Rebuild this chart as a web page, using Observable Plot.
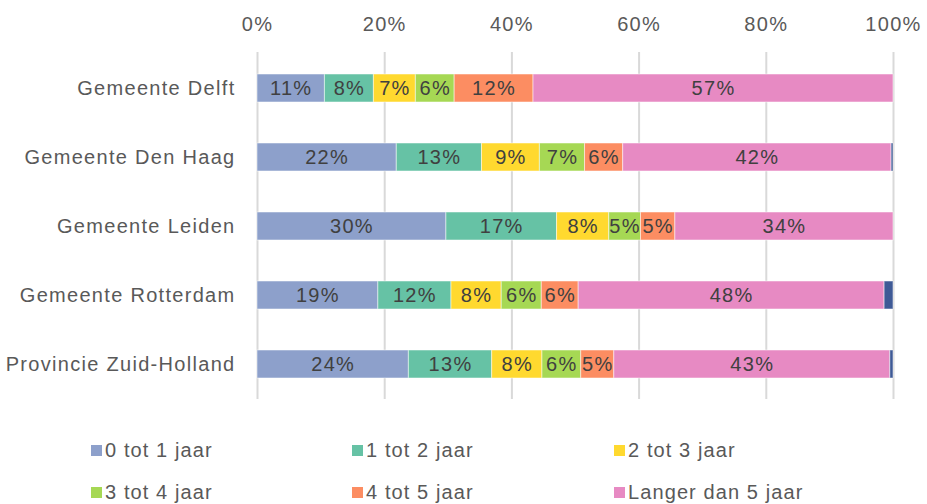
<!DOCTYPE html>
<html><head><meta charset="utf-8">
<script src="https://cdn.jsdelivr.net/npm/d3@7"></script>
<script src="https://cdn.jsdelivr.net/npm/@observablehq/plot@0.6"></script>
<style>
body{margin:0;background:#fff;font-family:"Liberation Sans",Arial,sans-serif;}
#chart svg text{letter-spacing:1.3px;}
#legend{display:grid;grid-template-columns:261px 262px 300px;padding-left:91px;padding-top:19px;row-gap:0;}
#legend div{height:42px;display:flex;align-items:center;font-size:20px;color:#595959;letter-spacing:1.1px;}
#legend span.sw{display:inline-block;width:11px;height:11px;margin-right:3px;}
</style></head>
<body><div id="chart"></div><div id="legend"></div>
<script>
const categories = ["Gemeente Delft","Gemeente Den Haag","Gemeente Leiden","Gemeente Rotterdam","Provincie Zuid-Holland"];
const series = ["0 tot 1 jaar","1 tot 2 jaar","2 tot 3 jaar","3 tot 4 jaar","4 tot 5 jaar","Langer dan 5 jaar","Onbekend"];
const colors = ["#8DA0CB","#66C2A5","#FFD92F","#A6D854","#FC8D62","#E78AC3","#3F5A96"];
const values = [
  [10.6, 7.7, 6.6, 6.1, 12.4, 56.6, 0],
  [21.9, 13.4, 9.1, 7.1, 6.0, 42.2, 0.3],
  [29.7, 17.4, 8.2, 5.0, 5.4, 34.3, 0],
  [19.0, 11.5, 7.9, 6.3, 5.8, 48.1, 1.4],
  [23.8, 13.1, 7.9, 6.1, 5.2, 43.4, 0.5]
];
const xTicks = [0,20,40,60,80,100];

const data = [];
categories.forEach((c,i)=>series.forEach((s,j)=>data.push({cat:c, ser:s, v:values[i][j]})));

const chart = Plot.plot({
  width: 927, height: 410,
  marginTop: 52, marginBottom: 11, marginLeft: 257, marginRight: 34,
  style:{fontFamily:"Liberation Sans, Arial, sans-serif", fontSize:"20px", color:"#595959"},
  x:{domain:[0,100], ticks:xTicks, tickFormat:d=>d+"%", axis:"top", tickSize:0, tickPadding:22, label:null, grid:false},
  y:{domain:categories, paddingInner:0.6, paddingOuter:0.3, tickSize:0, tickPadding:22, label:null},
  color:{domain:series, range:colors},
  marks:[
    Plot.ruleX(xTicks,{stroke:"#d9d9d9", strokeWidth:2}),
    Plot.barX(data, Plot.stackX({x:"v", y:"cat", fill:"ser", order:series, stroke:"white", strokeOpacity:0.5, strokeWidth:1})),
    Plot.text(data.filter(d=>d.ser!=="Onbekend"), Plot.stackX({x:"v", y:"cat", z:"ser", order:series, text:d=>Math.round(d.v)+"%", fill:"#404040", fontSize:20}))
  ]
});
document.getElementById("chart").appendChild(chart);

const leg = document.getElementById("legend");
series.slice(0,6).forEach((s,i)=>{
  const d=document.createElement("div");
  d.innerHTML=`<span class="sw" style="background:${colors[i]}"></span>${s}`;
  leg.appendChild(d);
});
</script></body></html>
